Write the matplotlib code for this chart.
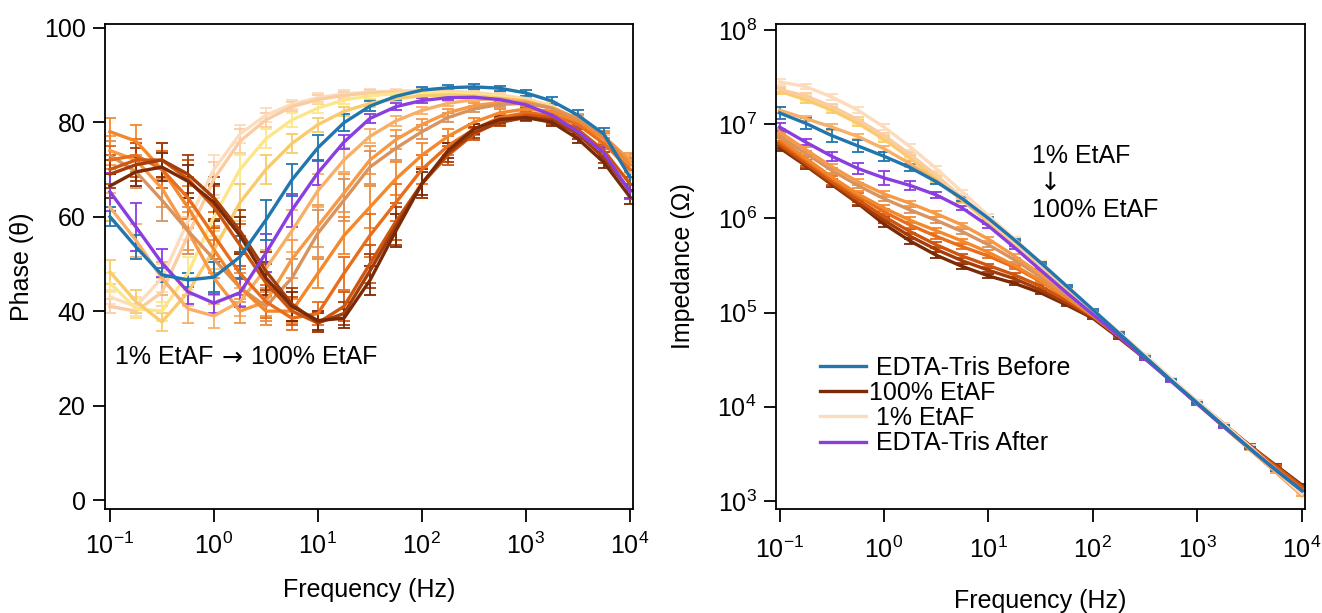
import numpy as np
import matplotlib
matplotlib.use('Agg')
import matplotlib.pyplot as plt
from matplotlib.ticker import NullLocator, LogLocator
from matplotlib.offsetbox import TextArea, HPacker, VPacker, AnchoredOffsetbox

plt.rcParams['font.family'] = ['Liberation Sans', 'DejaVu Sans']
plt.rcParams['mathtext.fontset'] = 'custom'
plt.rcParams['mathtext.rm'] = 'Liberation Sans'
plt.rcParams['mathtext.it'] = 'Liberation Sans:italic'
plt.rcParams['font.size'] = 18

# frequencies (Hz), 4 points per decade
freq = [0.1, 0.178, 0.316, 0.562, 1.0, 1.78, 3.16, 5.62, 10.0, 17.8, 31.6,
        56.2, 100.0, 178.0, 316.0, 562.0, 1000.0, 1780.0, 3160.0, 5620.0, 10000.0]

# phase (deg) - EDTA-Tris before / after
phase_before = [60, 53.6, 47.7, 46.6, 47.2, 51.5, 59.3, 67.8, 74.6, 79.9, 83.4,
                85.5, 86.8, 87.3, 87.5, 87.2, 86.2, 84.5, 81.5, 77.5, 68.4]
phase_after = [65.3, 57.8, 50.2, 44.1, 41.7, 43.9, 52.3, 61.4, 69.3, 75.8, 80.8,
               83.3, 84.6, 85.2, 85.3, 84.8, 83.7, 81.5, 78, 73.5, 65.3]
phase_before_err = [2, 2.5, 1.5, 1.5, 3.2, 4.5, 4.2, 3.4, 2.6, 1.8, 1,
                    0.8, 0.6, 0.5, 0.5, 0.5, 0.6, 0.8, 1, 1.2, 1.5]
phase_after_err = [4, 5, 3, 2.5, 2, 3, 4, 3.5, 2.5, 1.5, 1,
                   0.8, 0.6, 0.5, 0.5, 0.5, 0.6, 0.8, 1, 1.2, 1.5]

# phase (deg) - EtAF dilutions, 1% (first row) -> 100% (last row)
phase_etaf = [
    [43, 41, 47, 59, 70, 77.5, 81.5, 83.8, 85.2, 86, 86.4, 86.6, 86.7, 86.6, 86.3, 85.8, 85, 83.5, 80.5, 76, 69.5],
    [41, 40, 44, 56, 68, 76, 80.5, 83.3, 84.8, 85.7, 86.2, 86.4, 86.5, 86.4, 86.1, 85.6, 84.8, 83.2, 80.3, 76, 69.5],
    [46, 40.5, 40, 48, 60, 70, 76.5, 80.5, 83, 84.7, 85.6, 86.1, 86.3, 86.3, 86, 85.5, 84.7, 83.2, 80.5, 76.5, 70.5],
    [48.3, 42, 37.7, 44, 53, 63, 70, 75.5, 79.5, 82.3, 84, 85, 85.6, 85.8, 85.6, 85.1, 84.4, 83, 80.6, 76.8, 71.2],
    [62, 55, 47, 40.5, 39, 42, 49, 57, 65.5, 72, 77, 80.3, 82.5, 84, 84.8, 85, 84.5, 83, 80.5, 76.5, 71.5],
    [74, 72, 66, 57, 47, 40, 42, 51, 58, 65, 72, 76.3, 79.5, 82, 83.5, 84.2, 84.2, 83, 80.8, 77, 72],
    [73, 69.5, 63.5, 57, 51, 45, 41, 47, 56.5, 63.5, 70.5, 74.5, 78, 81, 82.8, 83.8, 84, 83, 80.5, 77, 71],
    [78, 76, 70, 62, 53, 45, 40, 40, 48, 56, 62, 68, 73, 77, 80, 82, 82.8, 82.3, 80, 76.5, 71],
    [72, 73, 70, 64, 56, 48, 42, 38.5, 39.5, 48, 56, 63, 70, 75, 78.5, 81, 82, 81.5, 79.5, 75.5, 70],
    [70, 72, 72, 68, 62, 54, 46, 40, 37.5, 41, 50, 59, 67, 73, 77.5, 80.3, 81.5, 81, 78.5, 74, 67],
    [69, 71, 72, 69, 64, 57, 48.5, 41.5, 37.5, 39.5, 48.5, 58, 67, 73.5, 77.8, 80, 81, 80.5, 77.5, 72.5, 65.5],
    [66.5, 69.5, 70.5, 67.5, 63, 56, 47, 41, 38, 38.5, 46.5, 57, 67, 74, 78.6, 80.6, 81, 80, 76.5, 71.5, 64.2],
]
phase_etaf_err = [
    [1.5, 2, 3, 4, 3, 2, 1.5, 1, 1, 0.8, 0.6, 0.5, 0.5, 0.5, 0.5, 0.5, 0.6, 0.8, 1, 1.2, 1.5],
    [1.5, 1.5, 3, 4, 3.5, 2.5, 1.5, 1, 1, 0.8, 0.6, 0.5, 0.5, 0.5, 0.5, 0.5, 0.6, 0.8, 1, 1.2, 1.5],
    [2, 2, 2, 3.5, 4, 3, 2, 1.5, 1, 0.8, 0.6, 0.5, 0.5, 0.5, 0.5, 0.5, 0.6, 0.8, 1, 1.2, 1.5],
    [2.5, 2.5, 2, 3, 4, 4, 3, 2, 1.5, 1, 0.8, 0.6, 0.5, 0.5, 0.5, 0.5, 0.6, 0.8, 1, 1.2, 1.5],
    [3, 3.5, 3.5, 3, 2.5, 3, 4, 4.5, 3.5, 2.5, 1.5, 1, 0.8, 0.6, 0.5, 0.5, 0.6, 0.8, 1, 1.2, 1.5],
    [3, 3.5, 4, 4, 3.5, 2.5, 3, 4, 4.5, 4, 3, 2, 1.2, 0.8, 0.6, 0.5, 0.6, 0.8, 1, 1.2, 1.5],
    [3, 3.5, 4.5, 5, 4, 3, 3, 4, 5, 4.5, 3.5, 2.5, 1.5, 1, 0.7, 0.6, 0.6, 0.8, 1, 1.2, 1.5],
    [3, 3.5, 4, 4.5, 5, 4, 3, 2.5, 3, 4, 4.5, 3.5, 2.5, 1.5, 1, 0.7, 0.6, 0.8, 1, 1.2, 1.5],
    [3, 3.5, 4, 4.5, 5, 4.5, 3.5, 2.5, 2.5, 3.5, 4.5, 4, 3, 2, 1.2, 0.8, 0.7, 0.8, 1, 1.2, 1.5],
    [3, 3.5, 3.5, 4, 4.5, 4.5, 4, 3, 2, 3, 4, 4, 3, 2, 1.2, 0.8, 0.7, 0.8, 1, 1.2, 1.5],
    [3, 3.5, 3.5, 4, 4.5, 4.5, 4, 3.5, 2, 2.5, 3.5, 4, 3, 2, 1.2, 0.8, 0.7, 0.8, 1, 1.2, 1.5],
    [2.5, 3, 3, 3.5, 4, 4, 3.5, 3, 2, 2, 3, 3.5, 2.5, 1.5, 1, 0.7, 0.6, 0.8, 1, 1.2, 1.5],
]

# impedance, stored as log10(|Z| / Ohm)
logz_before = [7.12, 7.01, 6.88, 6.77, 6.66, 6.54, 6.39, 6.21, 6.00, 5.77, 5.53,
               5.28, 5.03, 4.78, 4.53, 4.28, 4.04, 3.80, 3.56, 3.33, 3.11]
logz_after = [6.97, 6.81, 6.66, 6.53, 6.43, 6.35, 6.25, 6.11, 5.92, 5.69, 5.45,
              5.21, 4.98, 4.75, 4.51, 4.27, 4.03, 3.79, 3.56, 3.33, 3.11]
logz_before_err = [0.06, 0.06, 0.07, 0.06, 0.05, 0.035, 0.025, 0.02, 0.015, 0.012, 0.01,
                   0.01, 0.01, 0.01, 0.01, 0.01, 0.01, 0.01, 0.01, 0.01, 0.01]
logz_after_err = [0.04, 0.035, 0.05, 0.06, 0.07, 0.05, 0.035, 0.025, 0.02, 0.015, 0.012,
                  0.01, 0.01, 0.01, 0.01, 0.01, 0.01, 0.01, 0.01, 0.01, 0.01]
logz_etaf = [
    [7.45, 7.40, 7.29, 7.15, 6.97, 6.76, 6.53, 6.28, 6.03, 5.78, 5.53, 5.28, 5.03, 4.79, 4.55, 4.30, 4.06, 3.82, 3.58, 3.33, 3.08],
    [7.37, 7.30, 7.19, 7.05, 6.88, 6.68, 6.46, 6.22, 5.98, 5.74, 5.50, 5.26, 5.02, 4.78, 4.54, 4.30, 4.05, 3.81, 3.57, 3.33, 3.08],
    [7.36, 7.28, 7.17, 7.03, 6.86, 6.66, 6.44, 6.21, 5.97, 5.73, 5.49, 5.25, 5.01, 4.77, 4.53, 4.29, 4.05, 3.81, 3.57, 3.33, 3.08],
    [7.35, 7.26, 7.15, 7.01, 6.84, 6.64, 6.42, 6.19, 5.96, 5.72, 5.48, 5.24, 5.00, 4.76, 4.52, 4.28, 4.04, 3.80, 3.56, 3.32, 3.07],
    [7.15, 7.06, 6.97, 6.87, 6.74, 6.58, 6.40, 6.20, 5.98, 5.75, 5.51, 5.26, 5.01, 4.77, 4.52, 4.28, 4.03, 3.79, 3.55, 3.31, 3.06],
    [6.92, 6.73, 6.55, 6.39, 6.26, 6.16, 6.05, 5.93, 5.78, 5.60, 5.41, 5.21, 4.99, 4.76, 4.52, 4.28, 4.03, 3.79, 3.55, 3.31, 3.06],
    [6.88, 6.69, 6.51, 6.35, 6.21, 6.09, 5.98, 5.86, 5.72, 5.56, 5.38, 5.19, 4.98, 4.76, 4.52, 4.28, 4.03, 3.79, 3.55, 3.31, 3.06],
    [6.85, 6.64, 6.44, 6.26, 6.11, 5.98, 5.87, 5.76, 5.64, 5.50, 5.34, 5.16, 4.97, 4.75, 4.52, 4.28, 4.04, 3.80, 3.56, 3.32, 3.07],
    [6.82, 6.62, 6.42, 6.24, 6.07, 5.93, 5.81, 5.70, 5.60, 5.48, 5.33, 5.16, 4.97, 4.75, 4.52, 4.28, 4.04, 3.80, 3.57, 3.35, 3.12],
    [6.79, 6.59, 6.39, 6.20, 6.02, 5.86, 5.72, 5.60, 5.50, 5.40, 5.28, 5.13, 4.96, 4.75, 4.52, 4.29, 4.05, 3.82, 3.59, 3.37, 3.15],
    [6.77, 6.57, 6.37, 6.17, 5.98, 5.81, 5.67, 5.55, 5.45, 5.36, 5.24, 5.10, 4.95, 4.74, 4.52, 4.29, 4.05, 3.82, 3.59, 3.37, 3.16],
    [6.75, 6.56, 6.36, 6.16, 5.94, 5.76, 5.61, 5.49, 5.39, 5.31, 5.21, 5.08, 4.94, 4.73, 4.51, 4.28, 4.04, 3.81, 3.59, 3.38, 3.17],
]
logz_etaf_err = [0.03, 0.03, 0.03, 0.03, 0.03, 0.03, 0.03, 0.025, 0.02, 0.02, 0.015,
                 0.012, 0.01, 0.01, 0.01, 0.01, 0.01, 0.01, 0.01, 0.01, 0.01]

etaf_colors = ['#FCDCBC', '#FBCCA2', '#FDE68A', '#F9CB6C', '#F8B068', '#F69A48',
               '#D8935F', '#F4882C', '#E86E1C', '#CF560F', '#A53D0A', '#7A2A07']
c_before = '#2176AE'
c_after = '#8B3EE0'

lw = 2.4
ebar = dict(elinewidth=1.3, capsize=4, capthick=1.3)
arrow_font = dict(size=18, family='DejaVu Sans')
text_font = dict(size=18)


def z_err(logz, e):
    logz = np.asarray(logz)
    e = np.asarray(e)
    z = 10 ** logz
    return z, [z - 10 ** (logz - e), 10 ** (logz + e) - z]


fig = plt.figure(figsize=(13.22, 6.13), dpi=100)
ax1 = fig.add_axes([0.0794, 0.1697, 0.3994, 0.7911])
ax2 = fig.add_axes([0.587, 0.1697, 0.4001, 0.7911])

# --- phase panel
for p, e, c in zip(phase_etaf, phase_etaf_err, etaf_colors):
    ax1.errorbar(freq, p, yerr=e, color=c, lw=lw, **ebar)
ax1.errorbar(freq, phase_after, yerr=phase_after_err, color=c_after, lw=lw, **ebar)
ax1.errorbar(freq, phase_before, yerr=phase_before_err, color=c_before, lw=lw, **ebar)

ax1.set_xscale('log')
ax1.set_xlim(10 ** -1.048, 10 ** 4.03)
ax1.set_ylim(-1.9, 100.8)
ax1.set_yticks([0, 20, 40, 60, 80, 100])
ax1.set_ylabel('Phase (θ)')
ax1.set_xlabel('Frequency (Hz)')
ax1.yaxis.set_label_coords(-0.134, 0.5)
ax1.xaxis.set_label_coords(0.5, -0.142)

row = HPacker(children=[TextArea('1% EtAF\u00a0', textprops=text_font),
                        TextArea('→', textprops=arrow_font),
                        TextArea('\u00a0100% EtAF', textprops=text_font)],
              align='baseline', pad=0, sep=1)
ax1.add_artist(AnchoredOffsetbox(loc='center left', child=row, pad=0, borderpad=0,
                                 bbox_to_anchor=(0.019, 0.313),
                                 bbox_transform=ax1.transAxes, frameon=False))

# --- impedance panel (lighter dilutions drawn last, so they sit on top)
order = [2, 3, 11, 10, 9, 8, 7, 6, 5, 4, 1, 0]
handles = {}
for i in order:
    z, zerr = z_err(logz_etaf[i], logz_etaf_err)
    h = ax2.errorbar(freq, z, yerr=zerr, color=etaf_colors[i], lw=lw, **ebar)
    handles[i] = h[0]
z, zerr = z_err(logz_after, logz_after_err)
h_after = ax2.errorbar(freq, z, yerr=zerr, color=c_after, lw=lw, **ebar)
z, zerr = z_err(logz_before, logz_before_err)
h_before = ax2.errorbar(freq, z, yerr=zerr, color=c_before, lw=lw, **ebar)

ax2.set_xscale('log')
ax2.set_yscale('log')
ax2.set_xlim(10 ** -1.034, 10 ** 4.03)
ax2.set_ylim(10 ** 2.915, 10 ** 8.064)
ax2.set_ylabel('Impedance (Ω)')
ax2.set_xlabel('Frequency (Hz)')
ax2.yaxis.set_label_coords(-0.153, 0.5)
ax2.xaxis.set_label_coords(0.5, -0.165)
ax2.yaxis.set_major_locator(LogLocator(base=10, numticks=10))

col = VPacker(children=[TextArea('1% EtAF', textprops=text_font),
                        TextArea(' ↓', textprops=arrow_font),
                        TextArea('100% EtAF', textprops=text_font)],
              align='left', pad=0, sep=2)
ax2.add_artist(AnchoredOffsetbox(loc='center left', child=col, pad=0, borderpad=0,
                                 bbox_to_anchor=(0.484, 0.672),
                                 bbox_transform=ax2.transAxes, frameon=False))

ax2.legend([h_before[0], handles[11], handles[0], h_after[0]],
           [' EDTA-Tris Before', '100% EtAF', ' 1% EtAF', ' EDTA-Tris After'],
           loc='upper left', bbox_to_anchor=(0.083, 0.316), frameon=False,
           handlelength=1.85, handletextpad=0.1, labelspacing=0.05,
           borderpad=0, borderaxespad=0)

for ax in (ax1, ax2):
    ax.xaxis.set_major_locator(LogLocator(base=10, numticks=10))
    ax.xaxis.set_minor_locator(NullLocator())
    ax.yaxis.set_minor_locator(NullLocator())
    ax.tick_params(direction='out', length=9, width=1.3, pad=5)
    for s in ax.spines.values():
        s.set_linewidth(1.3)
ax1.tick_params(axis='x', pad=8)
ax2.tick_params(axis='x', pad=11)

fig.savefig('out.png', dpi=100)
